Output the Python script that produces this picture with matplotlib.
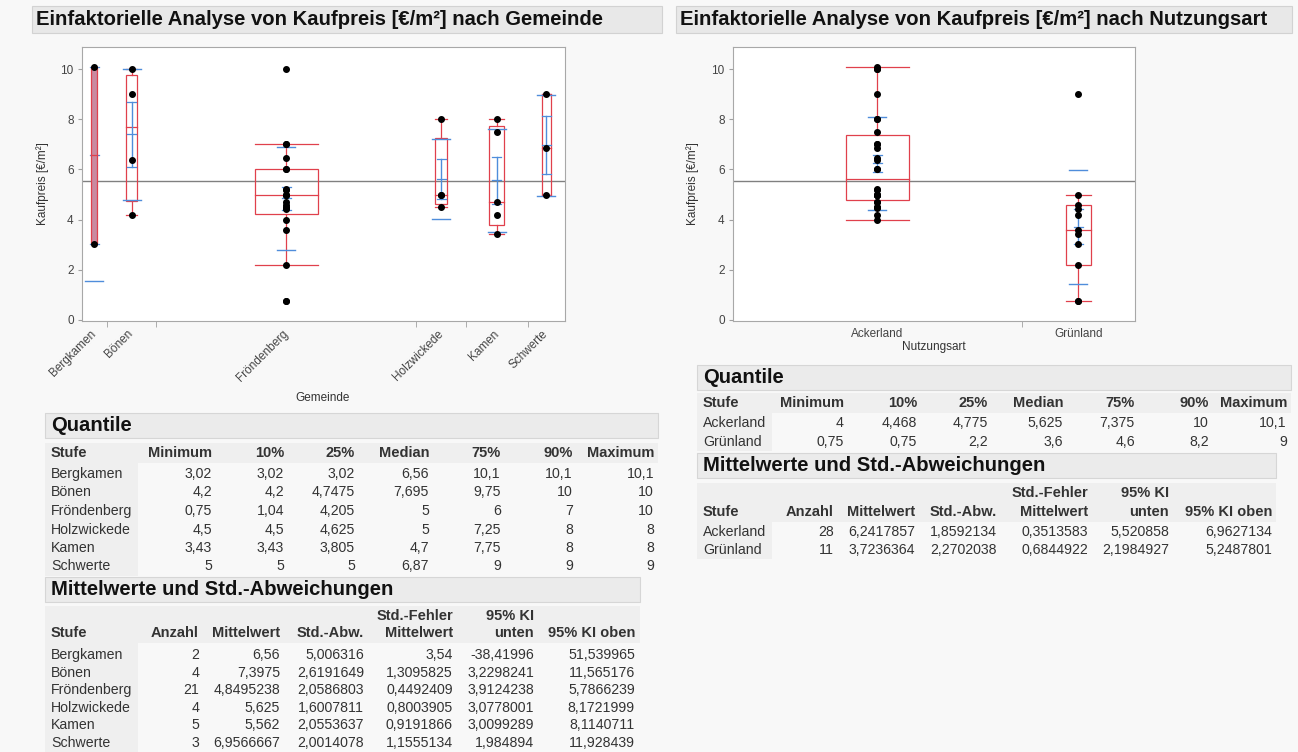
import numpy as np
import matplotlib
matplotlib.use('Agg')
import matplotlib.pyplot as plt
from matplotlib.patches import Rectangle

plt.rcParams['font.family'] = ['Liberation Sans', 'DejaVu Sans']

W, H = 1298, 752

# ---- data: Gemeinde ----
gemeinden = ['Bergkamen', 'Bönen', 'Fröndenberg', 'Holzwickede', 'Kamen', 'Schwerte']
anzahl_gem = [2, 4, 21, 4, 5, 3]
pts_bergkamen = [3.02, 10.1]
pts_boenen = [4.2, 6.39, 9.0, 10.0]
pts_froendenberg = [0.75, 0.75, 2.2, 3.6, 4.0, 4.41, 4.45, 4.5, 4.6, 4.7, 5.0,
                    5.0, 5.0, 5.2, 5.23, 6.0, 6.0, 6.45, 7.0, 7.0, 10.0]
pts_holzwickede = [4.5, 5.0, 5.0, 8.0]
pts_kamen = [3.43, 4.18, 4.7, 7.5, 8.0]
pts_schwerte = [5.0, 6.87, 9.0]
pts_gem = [pts_bergkamen, pts_boenen, pts_froendenberg, pts_holzwickede,
           pts_kamen, pts_schwerte]

# Minimum, 10%, 25%, Median, 75%, 90%, Maximum
quant_gem = [[3.02, 3.02, 3.02, 6.56, 10.1, 10.1, 10.1],
             [4.2, 4.2, 4.7475, 7.695, 9.75, 10, 10],
             [0.75, 1.04, 4.205, 5, 6, 7, 10],
             [4.5, 4.5, 4.625, 5, 7.25, 8, 8],
             [3.43, 3.43, 3.805, 4.7, 7.75, 8, 8],
             [5, 5, 5, 6.87, 9, 9, 9]]
# Anzahl, Mittelwert, Std.-Abw., Std.-Fehler, KI unten, KI oben
mittel_gem = [[2, 6.56, 5.006316, 3.54, -38.41996, 51.539965],
              [4, 7.3975, 2.6191649, 1.3095825, 3.2298241, 11.565176],
              [21, 4.8495238, 2.0586803, 0.4492409, 3.9124238, 5.7866239],
              [4, 5.625, 1.6007811, 0.8003905, 3.0778001, 8.1721999],
              [5, 5.562, 2.0553637, 0.9191866, 3.0099289, 8.1140711],
              [3, 6.9566667, 2.0014078, 1.1555134, 1.984894, 11.928439]]

# ---- data: Nutzungsart ----
nutzung = ['Ackerland', 'Grünland']
anzahl_nutz = [28, 11]
pts_ackerland = [10.1, 6.39, 10.0, 4.0, 4.45, 4.5, 4.7, 5.0, 5.0, 5.2, 5.23, 6.0,
                 6.0, 6.45, 7.0, 7.0, 10.0, 4.5, 5.0, 5.0, 8.0, 4.18, 4.7, 7.5,
                 8.0, 5.0, 6.87, 9.0]
pts_gruenland = [0.75, 0.75, 2.2, 3.02, 3.43, 3.6, 4.2, 4.41, 4.6, 5.0, 9.0]
pts_nutz = [pts_ackerland, pts_gruenland]
quant_nutz = [[4, 4.468, 4.775, 5.625, 7.375, 10, 10.1],
              [0.75, 0.75, 2.2, 3.6, 4.6, 8.2, 9]]
mittel_nutz = [[28, 6.2417857, 1.8592134, 0.3513583, 5.520858, 6.9627134],
               [11, 3.7236364, 2.2702038, 0.6844922, 2.1984927, 5.2487801]]

q_cols = ['Minimum', '10%', '25%', 'Median', '75%', '90%', 'Maximum']
m_cols_top = ['', '', '', 'Std.-Fehler', '95% KI', '']
m_cols = ['Anzahl', 'Mittelwert', 'Std.-Abw.', 'Mittelwert', 'unten', '95% KI oben']

RED = '#e0404c'
BLUE = '#4f8ddb'
TXT = '#333333'


def fx(x):
    return x / W


def fy(y):
    return 1 - y / H


def fmt(v):
    return ('%.10g' % v).replace('.', ',')


fig = plt.figure(figsize=(W / 100, H / 100), dpi=100, facecolor='#f8f8f8')


def ptext(x, y, s, **kw):
    kw.setdefault('color', TXT)
    fig.text(fx(x), fy(y), s, **kw)


def pbox(x0, y0, x1, y1, fc, ec='none', lw=0.8):
    fig.add_artist(Rectangle((fx(x0), fy(y1)), (x1 - x0) / W, (y1 - y0) / H,
                             transform=fig.transFigure, fc=fc, ec=ec, lw=lw))


def px_axes(x0, y0, x1, y1):
    return fig.add_axes([fx(x0), fy(y1), (x1 - x0) / W, (y1 - y0) / H])


def oneway(ax, names, counts, points, quant, mittel, box_frac, px_unit):
    counts = np.array(counts)
    edges = np.concatenate([[0], np.cumsum(counts)])
    centers = (edges[:-1] + edges[1:]) / 2
    sd_w = 18 / px_unit
    se_w = 9 / px_unit
    for i, c in enumerate(centers):
        pts = np.array(points[i])
        q25, med, q75 = quant[i][2], quant[i][3], quant[i][4]
        m, sd, se = mittel[i][1], mittel[i][2], mittel[i][3]
        w = box_frac * counts[i]
        iqr = q75 - q25
        inside = pts[(pts >= q25 - 1.5 * iqr) & (pts <= q75 + 1.5 * iqr)]
        lo, hi = inside.min(), inside.max()
        # very narrow boxes look like a solid rod in the original
        if counts[i] < 3:
            fc, zb = '#c98aa0', 3.5
        else:
            fc, zb = 'none', 2
        ax.add_patch(Rectangle((c - w / 2, q25), w, q75 - q25, fc=fc, ec=RED,
                               lw=0.9, zorder=zb))
        ax.plot([c - w / 2, c + w / 2], [med, med], color=RED, lw=0.9, zorder=zb)
        ax.plot([c, c], [q75, hi], color=RED, lw=0.9, zorder=2)
        ax.plot([c, c], [lo, q25], color=RED, lw=0.9, zorder=2)
        for y in (lo, hi):
            ax.plot([c - w / 2, c + w / 2], [y, y], color=RED, lw=0.9, zorder=2)
        # mean +- standard error
        ax.plot([c, c], [m - se, m + se], color=BLUE, lw=1.0, zorder=3)
        for y in (m - se, m, m + se):
            ax.plot([c - se_w / 2, c + se_w / 2], [y, y], color=BLUE, lw=0.9, zorder=3)
        # std dev lines
        for y in (m - sd, m + sd):
            ax.plot([c - sd_w / 2, c + sd_w / 2], [y, y], color=BLUE, lw=1.0, zorder=3)
        ax.plot(np.full(len(pts), c), pts, 'o', color='black', ms=4, zorder=4)
    grand = np.sum(counts * np.array([r[1] for r in mittel])) / counts.sum()
    ax.axhline(grand, color='#808080', lw=1.0, zorder=1)
    ax.set_xlim(0, counts.sum())
    ax.set_ylim(-0.04, 10.88)
    ax.set_yticks([0, 2, 4, 6, 8, 10])
    ax.set_xticks(centers)
    ax.set_xticks(edges[1:-1], minor=True)
    ax.tick_params(axis='x', which='major', length=0)
    ax.tick_params(axis='x', which='minor', length=4, color='#a0a0a0')
    ax.tick_params(axis='y', length=3, color='#a0a0a0', labelsize=8.5,
                   labelcolor='#444444', pad=3)
    for s in ax.spines.values():
        s.set_color('#a8a8a8')
    ax.set_facecolor('white')
    ax.set_ylabel('Kaufpreis [€/m²]', fontsize=8.5, color='#333333')


def title_bar(x0, x1, s):
    pbox(x0, 6, x1, 33, '#e8e8e8', '#d2d2d2')
    ptext(x0 + 4, 19.5, s, fontsize=14.6, fontweight='bold', color='#111111',
          va='center', ha='left')


def section_bar(x0, x1, y0, y1, s):
    pbox(x0, y0, x1, y1, '#ebebeb', '#d6d6d6')
    ptext(x0 + 6, (y0 + y1) / 2, s, fontsize=14.6, fontweight='bold',
          color='#111111', va='center', ha='left')


def quant_table(x0, x1, y0, names, rows, rights, stufe_w, y_head, y_rows):
    section_bar(x0, x1, y0, y0 + 25, 'Quantile')
    pbox(x0, y_head - 10, x1, y_head + 10, '#efefef')
    pbox(x0, y_head + 10, x0 + stufe_w, y_rows[-1] + 9, '#efefef')
    ptext(x0 + 6, y_head, 'Stufe', fontsize=10.5, fontweight='bold', va='center')
    for col, xr in zip(q_cols, rights):
        ptext(xr, y_head, col, fontsize=10.5, fontweight='bold', va='center', ha='right')
    for name, row, y in zip(names, rows, y_rows):
        ptext(x0 + 6, y, name, fontsize=10.2, va='center')
        for v, xr in zip(row, rights):
            ptext(xr, y, fmt(v), fontsize=10.2, va='center', ha='right')


def mittel_table(x0, x1, y0, names, rows, rights, stufe_w, y_top, y_head, y_rows):
    section_bar(x0, x1, y0, y0 + 25, 'Mittelwerte und Std.-Abweichungen')
    pbox(x0, y_top - 10, x1, y_head + 10, '#efefef')
    pbox(x0, y_head + 10, x0 + stufe_w, y_rows[-1] + 9, '#efefef')
    ptext(x0 + 6, y_head, 'Stufe', fontsize=10.5, fontweight='bold', va='center')
    for top, col, xr in zip(m_cols_top, m_cols, rights):
        ptext(xr, y_top, top, fontsize=10.5, fontweight='bold', va='center', ha='right')
        ptext(xr, y_head, col, fontsize=10.5, fontweight='bold', va='center', ha='right')
    for name, row, y in zip(names, rows, y_rows):
        ptext(x0 + 6, y, name, fontsize=10.2, va='center')
        for v, xr in zip(row, rights):
            ptext(xr, y, fmt(v), fontsize=10.2, va='center', ha='right')


# ---------- left panel ----------
title_bar(32, 662, 'Einfaktorielle Analyse von Kaufpreis [€/m²] nach Gemeinde')
ax1 = px_axes(82, 47, 565, 321)
oneway(ax1, gemeinden, anzahl_gem, pts_gem, quant_gem, mittel_gem, 0.24, 483 / 39)
ax1.set_xticklabels(gemeinden, rotation=45, ha='right', va='center',
                    rotation_mode='anchor', fontsize=8.5, color='#444444')
ax1.tick_params(axis='x', which='major', pad=8)
ax1.yaxis.set_label_coords(-0.068, 0.5)
ptext(323, 398, 'Gemeinde', fontsize=8.5, ha='center', va='center')

quant_table(45, 658, 413, gemeinden, quant_gem,
            [212, 284, 355, 429, 501, 573, 654], 93, 453,
            [474 + 18.5 * i for i in range(6)])
mittel_table(45, 640, 577, gemeinden, mittel_gem,
             [199, 280, 364, 453, 534, 635], 93, 616, 633,
             [655 + 17.6 * i for i in range(6)])

# ---------- right panel ----------
title_bar(676, 1292, 'Einfaktorielle Analyse von Kaufpreis [€/m²] nach Nutzungsart')
ax2 = px_axes(733, 47, 1135, 321)
oneway(ax2, nutzung, anzahl_nutz, pts_nutz, quant_nutz, mittel_nutz, 0.22, 402 / 39)
ax2.set_xticklabels(nutzung, fontsize=8.5, color='#444444')
ax2.tick_params(axis='x', which='major', pad=5)
ax2.yaxis.set_label_coords(-0.085, 0.5)
ptext(934, 347, 'Nutzungsart', fontsize=8.5, ha='center', va='center')

quant_table(697, 1291, 365, nutzung, quant_nutz,
            [844, 917, 988, 1063, 1135, 1209, 1287], 75, 403, [423, 442])
mittel_table(697, 1276, 453, nutzung, mittel_nutz,
             [834, 915, 997, 1088, 1169, 1272], 75, 493, 512, [532, 550])

fig.savefig('out.png', dpi=100, facecolor=fig.get_facecolor())
